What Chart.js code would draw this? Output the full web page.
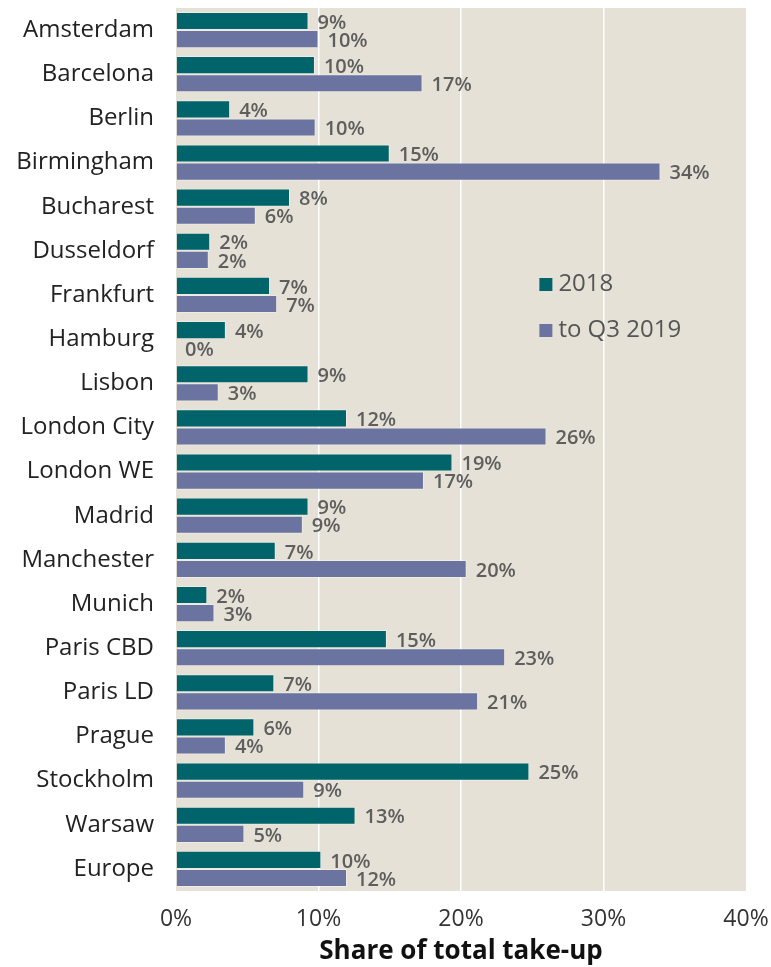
<!DOCTYPE html><html lang="en"><head><meta charset="utf-8"/>
<title>Share of total take-up</title>
<script src="https://cdn.jsdelivr.net/npm/chart.js@4.4.1/dist/chart.umd.min.js"></script>
<style>
  *{box-sizing:border-box}
  body{margin:0;background:#fff}
  #wrap{width:771px;height:967px}
</style></head><body>
<div id="wrap"><canvas id="c" width="771" height="967"></canvas></div>
<script>
const cities = ['Amsterdam','Barcelona','Berlin','Birmingham','Bucharest','Dusseldorf','Frankfurt','Hamburg','Lisbon','London City','London WE','Madrid','Manchester','Munich','Paris CBD','Paris LD','Prague','Stockholm','Warsaw','Europe'];
const y2018 = [9.3,9.75,3.8,15.0,8.0,2.4,6.6,3.5,9.3,12.0,19.4,9.3,7.0,2.2,14.8,6.9,5.5,24.8,12.6,10.2];
const toQ3 = [10.0,17.3,9.8,34.0,5.6,2.3,7.1,0,3.0,26.0,17.4,8.9,20.4,2.7,23.1,21.2,3.5,9.0,4.8,12.0];
const seriesNames = ['2018','to Q3 2019'];
const colors = ['#00646a','#6b74a0'];
const FONT = '"Open Sans", sans-serif';

const bgPlugin = {id:'bg', beforeDraw(ch){
  const a = ch.chartArea, c = ch.ctx;
  c.save(); c.fillStyle = '#e5e1d6'; c.fillRect(a.left, a.top, a.right-a.left, a.bottom-a.top); c.restore();
}};
const labelPlugin = {id:'vals', afterDatasetsDraw(ch){
  const c = ch.ctx;
  c.save(); c.font = '600 20px ' + FONT; c.fillStyle = '#5e5e5e'; c.textBaseline = 'middle'; c.textAlign = 'left';
  ch.data.datasets.forEach((ds, di) => {
    ch.getDatasetMeta(di).data.forEach((bar, i) => {
      c.fillText(Math.round(ds.data[i]) + '%', bar.x + 9, bar.y + 2);
    });
  });
  c.restore();
}};
const legendPlugin = {id:'leg', afterDraw(ch){
  const c = ch.ctx, x = ch.scales.x.getPixelForValue(25.5);
  c.save(); c.font = '24px ' + FONT; c.textBaseline = 'middle';
  seriesNames.forEach((n, i) => {
    const y = 284 + i*46;
    c.fillStyle = colors[i]; c.fillRect(x, y-6, 13, 13);
    c.fillStyle = '#555'; c.fillText(n, x + 19, y);
  });
  c.restore();
}};

new Chart(document.getElementById('c'), {
  type:'bar',
  data:{labels:cities, datasets: seriesNames.map((n, i) => ({
    label:n, data:i ? toQ3 : y2018, backgroundColor:colors[i],
    borderColor:'rgba(255,255,255,0.35)', borderWidth:1,
    categoryPercentage:0.82, barPercentage:1
  }))},
  options:{
    indexAxis:'y', responsive:false, animation:false,
    layout:{padding:{top:8, right:25, left:0, bottom:0}},
    plugins:{legend:{display:false}, tooltip:{enabled:false}},
    scales:{
      x:{min:0, max:40, position:'bottom',
        ticks:{stepSize:10, callback:v => v + '%', color:'#333', font:{family:FONT, size:23}, padding:15},
        grid:{color:ctx => (ctx.tick && (ctx.tick.value === 0 || ctx.tick.value === 40)) ? 'rgba(0,0,0,0)' : '#ffffff', lineWidth:1.5, drawTicks:false},
        border:{display:false},
        title:{display:true, text:'Share of total take-up', color:'#111', font:{family:FONT, size:26, weight:'bold'}, padding:{top:0, bottom:0}},
        afterFit(s){ s.height = 76; s.paddingLeft = 0; s.paddingRight = 0; }
      },
      y:{
        ticks:{color:'#222', font:{family:FONT, size:24}, padding:14},
        grid:{display:false}, border:{display:false},
        afterFit(s){ s.width = 176; s.paddingTop = 0; s.paddingBottom = 0; }
      }
    }
  },
  plugins:[bgPlugin, labelPlugin, legendPlugin]
});
</script></body></html>
